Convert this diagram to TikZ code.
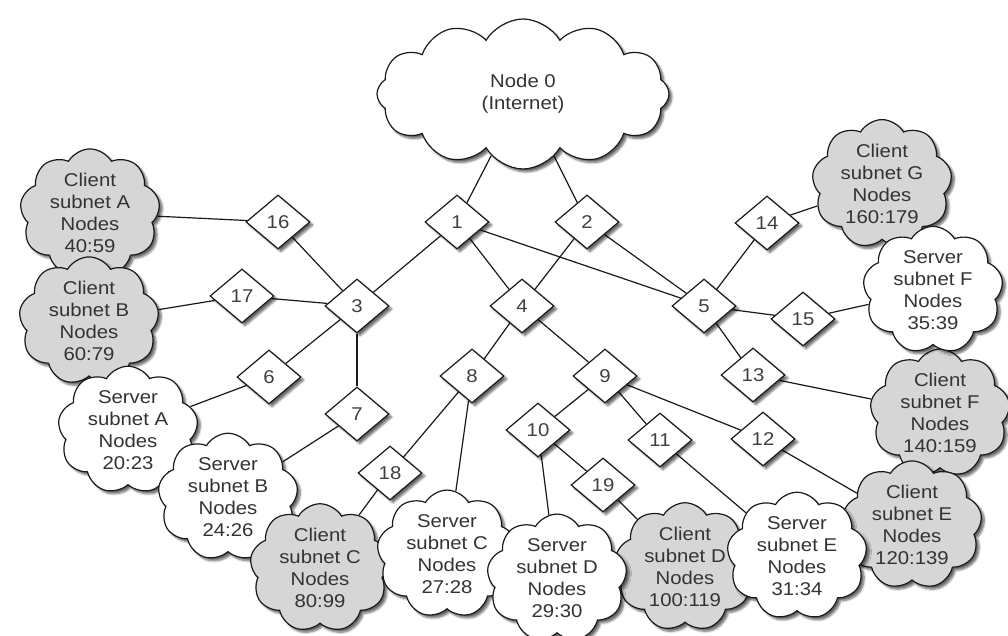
\documentclass[tikz,border=0pt]{standalone}
\usepackage{fontspec}
\setmainfont{Liberation Sans}[FakeStretch=1.1]
\usetikzlibrary{shapes.geometric,shapes.symbols,shadows.blur,backgrounds}

\begin{document}
\begin{tikzpicture}[
  x=1pt, y=-1pt,
  font=\fontsize{18.5}{22}\selectfont,
  shd/.style   ={blur shadow={shadow xshift=3pt, shadow yshift=-3pt, shadow blur steps=6, shadow opacity=60}},
  puff/.style  ={cloud, cloud puffs=9, cloud puff arc=120, cloud ignores aspect, draw=black!90, line width=1.2pt,
                 text=black!80, align=center, inner sep=0pt, minimum width=140pt, minimum height=116pt, shd},
  client/.style={puff, fill=black!16},
  server/.style={puff, fill=white},
  inet/.style  ={puff, fill=white, cloud puffs=12, minimum width=292pt, minimum height=150pt},
  rtr/.style   ={diamond, aspect=1.2, draw=black!90, fill=white, line width=1.2pt, text=black!75,
                 minimum width=64pt, minimum height=54pt, inner sep=0pt, shd},
  link/.style  ={black!90, line width=1.2pt}
]
\useasboundingbox (0,0) rectangle (1008,636);

% ---- Internet -------------------------------------------------------------
\node[inet] (net) at (523,94) {Node 0\\(Internet)};

% ---- Client subnets (drawn first, servers overlap them) --------------------
\node[client] (cA) at (90,213)  {Client\\subnet A\\Nodes\\40:59};
\node[client] (cB) at (89,321)  {Client\\subnet B\\Nodes\\60:79};
\node[client] (cG) at (882,184) {Client\\subnet G\\Nodes\\160:179};
\node[client] (cF) at (940,413) {Client\\subnet F\\Nodes\\140:159};
\node[client] (cE) at (912,525) {Client\\subnet E\\Nodes\\120:139};
\node[client] (cD) at (685,567) {Client\\subnet D\\Nodes\\100:119};

% ---- Server subnets -----------------------------------------------------------
\node[server] (sF) at (933,290) {Server\\subnet F\\Nodes\\35:39};
\node[server] (sA) at (128,430) {Server\\subnet A\\Nodes\\20:23};
\node[server] (sB) at (228,497) {Server\\subnet B\\Nodes\\24:26};
\node[client] (cC) at (320,568) {Client\\subnet C\\Nodes\\80:99};
\node[server] (sC) at (447,554) {Server\\subnet C\\Nodes\\27:28};
\node[server] (sD) at (557,578) {Server\\subnet D\\Nodes\\29:30};
\node[server] (sE) at (797,556) {Server\\subnet E\\Nodes\\31:34};

% ---- Routers --------------------------------------------------------------------
\node[rtr] (r1)  at (457,222) {1};
\node[rtr] (r2)  at (587,222) {2};
\node[rtr] (r3)  at (357,306) {3};
\node[rtr] (r4)  at (522,306) {4};
\node[rtr] (r5)  at (704,306) {5};
\node[rtr] (r6)  at (269,377) {6};
\node[rtr] (r7)  at (357,414) {7};
\node[rtr] (r8)  at (472,376) {8};
\node[rtr] (r9)  at (605,376) {9};
\node[rtr] (r10) at (538,430) {10};
\node[rtr] (r11) at (660,440) {11};
\node[rtr] (r12) at (763,439) {12};
\node[rtr] (r13) at (753,375) {13};
\node[rtr] (r14) at (767,223) {14};
\node[rtr] (r15) at (803,319) {15};
\node[rtr] (r16) at (278,222) {16};
\node[rtr] (r17) at (242,296) {17};
\node[rtr] (r18) at (390,473) {18};
\node[rtr] (r19) at (603,485) {19};

% ---- Links ------------------------------------------------------------------------
\begin{scope}[on background layer]
  \draw[link] (net) -- (r1);
  \draw[link] (net) -- (r2);
  \draw[link] (r1) -- (r3);
  \draw[link] (r1) -- (r4);
  \draw[link] (r1) -- (r5);
  \draw[link] (r2) -- (r4);
  \draw[link] (r2) -- (r5);
  \draw[link] (r3) -- (r16);
  \draw[link] (r3) -- (r17);
  \draw[link] (r3) -- (r6);
  \draw[link] (r3) -- (r7);
  \draw[link] (r16) -- (cA);
  \draw[link] (r17) -- (cB);
  \draw[link] (r6) -- (sA);
  \draw[link] (r7) -- (sB);
  \draw[link] (r4) -- (r8);
  \draw[link] (r4) -- (r9);
  \draw[link] (r8) -- (r18);
  \draw[link] (r8) -- (sC);
  \draw[link] (r18) -- (cC);
  \draw[link] (r9) -- (r10);
  \draw[link] (r9) -- (r11);
  \draw[link] (r9) -- (r12);
  \draw[link] (r10) -- (sD);
  \draw[link] (r10) -- (r19);
  \draw[link] (r19) -- (cD);
  \draw[link] (r11) -- (sE);
  \draw[link] (r12) -- (cE);
  \draw[link] (r5) -- (r14);
  \draw[link] (r5) -- (r15);
  \draw[link] (r5) -- (r13);
  \draw[link] (r14) -- (cG);
  \draw[link] (r15) -- (sF);
  \draw[link] (r13) -- (cF);
\end{scope}

\end{tikzpicture}
\end{document}
